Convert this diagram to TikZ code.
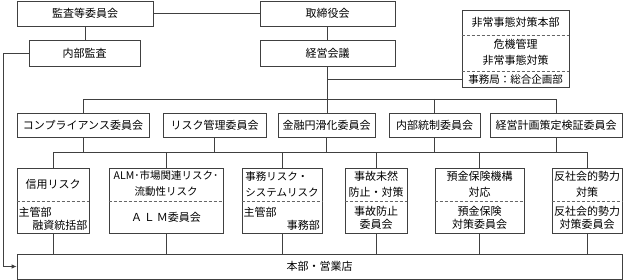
\documentclass[tikz,border=0pt]{standalone}
\usepackage{fontspec}
\setmainfont{Noto Sans CJK JP}
\usetikzlibrary{arrows.meta}

\begin{document}
\begin{tikzpicture}[x=1pt, y=-1pt,
	box/.style={draw=black!75, line width=0.8pt, inner sep=0pt, font=\fontsize{11}{13}\selectfont},
	txt/.style={inner sep=0pt, font=\fontsize{11}{13}\selectfont, align=center},
	link/.style={draw=black!75, line width=0.8pt},
	sep/.style={draw=black!60, line width=0.7pt, dash pattern=on 3pt off 2pt}]
	
	\useasboundingbox (0,0) rectangle (623,280);
	
	% Hilfslinien (Hoehen der Verbindungen)
	\coordinate (ebranch) at (0,79);
	\coordinate (ubar) at (0,99);
	\coordinate (lbar) at (0,152);
	\coordinate (eline1) at (0,35);
	\coordinate (eline2) at (0,71);
	\coordinate (dline) at (0,201);
	\coordinate (leftrail) at (3,0);
	
	% Obere Ebene
	\node[box, minimum width=136pt, minimum height=25pt] (audit) at (85,13.5) {監査等委員会};
	\node[box, minimum width=135pt, minimum height=25pt] (board) at (327.5,13.5) {取締役会};
	\node[box, minimum width=111pt, minimum height=26pt] (intaudit) at (84.5,53) {内部監査};
	\node[box, minimum width=135pt, minimum height=26pt] (mgmt) at (327.5,53) {経営会議};
	
	% Kasten rechts oben
	\node[box, minimum width=107pt, minimum height=77pt] (emerg) at (515.5,48.5) {};
	\draw[sep] (emerg.west |- eline1) -- (emerg.east |- eline1);
	\draw[sep] (emerg.west |- eline2) -- (emerg.east |- eline2);
	\node[txt] (emergtitle) at (515.5,22.5) {非常事態対策本部};
	\node[txt] (emergtask) at (515.5,52.5) {危機管理\\[3pt]非常事態対策};
	\node[txt, font=\fontsize{10.5}{13}\selectfont] (emergoffice) at (515.5,79.5) {事務局：総合企画部};
	
	% Ausschuesse
	\node[box, minimum width=132pt, minimum height=24pt] (comp) at (83,125) {コンプライアンス委員会};
	\node[box, minimum width=103pt, minimum height=24pt] (risk) at (214.5,125) {リスク管理委員会};
	\node[box, minimum width=97pt, minimum height=24pt] (kinyu) at (326.5,125) {金融円滑化委員会};
	\node[box, minimum width=91pt, minimum height=24pt] (naibu) at (434.5,125) {内部統制委員会};
	\node[box, minimum width=132pt, minimum height=24pt] (keikaku) at (556,125) {経営計画策定検証委員会};
	
	% Risikokaesten unten
	\node[box, minimum width=72pt, minimum height=65pt] (shinyo) at (53,200.5) {};
	\node[box, minimum width=114pt, minimum height=65pt] (alm) at (166,200.5) {};
	\node[box, minimum width=80pt, minimum height=65pt] (jimu) at (282,200.5) {};
	\node[box, minimum width=62pt, minimum height=65pt] (jiko) at (376,200.5) {};
	\node[box, minimum width=89pt, minimum height=65pt] (yokin) at (479.5,200.5) {};
	\node[box, minimum width=70pt, minimum height=65pt] (hansha) at (587,200.5) {};
	
	% Gestrichelte Trennlinien
	\draw[sep] (shinyo.west |- dline) -- (shinyo.east |- dline);
	\draw[sep] (alm.west |- dline) -- (alm.east |- dline);
	\draw[sep] (jimu.west |- dline) -- (jimu.east |- dline);
	\draw[sep] (jiko.west |- dline) -- (jiko.east |- dline);
	\draw[sep] (yokin.west |- dline) -- (yokin.east |- dline);
	\draw[sep] (hansha.west |- dline) -- (hansha.east |- dline);
	
	% Texte in den Risikokaesten
	\node[txt] (shinyoup) at (53,184.5) {信用リスク};
	\node[txt, anchor=west] (shinyolowa) at (18.5,212) {主管部};
	\node[txt, anchor=east] (shinyolowb) at (87.5,225) {融資統括部};
	
	\node[txt, font=\fontsize{10.5}{13}\selectfont] (almup) at (166,184) {ALM･市場関連リスク･\\[3pt]流動性リスク};
	\node[txt] (almlow) at (166,217.5) {Ａ\,Ｌ\,Ｍ委員会};
	
	\node[txt, align=left, font=\fontsize{10.5}{13}\selectfont] (jimuup) at (282,184) {事務リスク・\\[3pt]システムリスク};
	\node[txt, anchor=west] (jimulowa) at (243.5,212) {主管部};
	\node[txt, anchor=east] (jimulowb) at (320,225) {事務部};
	
	\node[txt] (jikoup) at (376,184) {事故未然\\[3pt]防止・対策};
	\node[txt] (jikolow) at (376,217.5) {事故防止\\委員会};
	
	\node[txt] (yokinup) at (479.5,184) {預金保険機構\\[3pt]対応};
	\node[txt] (yokinlow) at (479.5,217.5) {預金保険\\対策委員会};
	
	\node[txt] (hanshaup) at (587,184) {反社会的勢力\\[3pt]対策};
	\node[txt] (hanshalow) at (587,217.5) {反社会的勢力\\対策委員会};
	
	% Unterste Ebene
	\node[box, minimum width=605pt, minimum height=25pt] (honbu) at (319.5,266.5) {本部・営業店};
	
	% Verbindungen oben
	\draw[link] (audit) -- (board);
	\draw[link] (audit.south) -- (audit.south |- intaudit.north);
	\draw[link] (board) -- (mgmt);
	\draw[link] (mgmt.south) -- (mgmt.south |- kinyu.north);
	\draw[link] (mgmt.south |- ebranch) -- (emerg.west |- ebranch);
	
	% Verteiler zu den Ausschuessen
	\draw[link] (comp.north) -- (comp.north |- ubar) -- (keikaku.north |- ubar) -- (keikaku.north);
	\draw[link] (naibu.north |- ubar) -- (naibu.north);
	
	% Verteiler zu den Risikokaesten
	\draw[link] (shinyo.north) -- (shinyo.north |- lbar) -- (hansha.north |- lbar) -- (hansha.north);
	\draw[link] (alm.north) -- (alm.north |- lbar);
	\draw[link] (jimu.north) -- (jimu.north |- lbar);
	\draw[link] (jiko.north) -- (jiko.north |- lbar);
	\draw[link] (yokin.north) -- (yokin.north |- lbar);
	\draw[link] (comp.south) -- (comp.south |- lbar);
	\draw[link] (risk.south) -- (risk.south |- lbar);
	\draw[link] (kinyu.south) -- (kinyu.south |- lbar);
	\draw[link] (naibu.south) -- (naibu.south |- lbar);
	\draw[link] (keikaku.south) -- (keikaku.south |- lbar);
	
	% Verbindungen nach unten
	\draw[link] (shinyo.south) -- (shinyo.south |- honbu.north);
	\draw[link] (alm.south) -- (alm.south |- honbu.north);
	\draw[link] (jimu.south) -- (jimu.south |- honbu.north);
	\draw[link] (jiko.south) -- (jiko.south |- honbu.north);
	\draw[link] (yokin.south) -- (yokin.south |- honbu.north);
	\draw[link] (hansha.south) -- (hansha.south |- honbu.north);
	
	% Pfeil vom internen Audit
	\draw[link, -{Latex[length=5pt,width=4.5pt]}]
	(intaudit.west) -- (intaudit.west -| leftrail) -- (leftrail |- honbu.west) -- (honbu.west);
	
\end{tikzpicture}
\end{document}
